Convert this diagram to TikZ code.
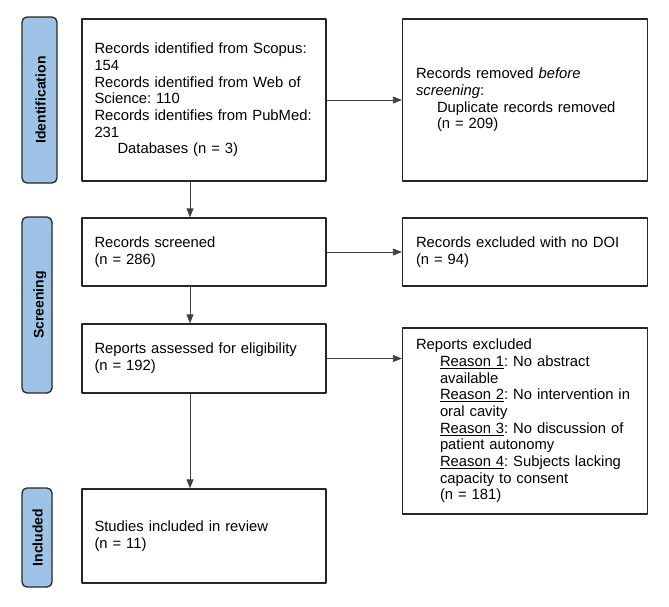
\documentclass[tikz,border=0pt]{standalone}
\usepackage{fontspec}
\setmainfont{Liberation Sans}
\usetikzlibrary{arrows.meta}
\definecolor{phaseblue}{RGB}{158,195,230}
\begin{document}
\begin{tikzpicture}[x=1pt,y=-1pt,line join=round,
	>={Triangle[length=9pt,width=7pt]},
	font=\fontsize{14.8pt}{16.7pt}\selectfont\frenchspacing,
	box/.style={draw=black!85,line width=1.3pt,inner xsep=12.5pt,
		text width=219pt,align=left,minimum width=244pt},
	rbox/.style={box,inner xsep=13.5pt,text width=218pt,minimum width=245pt},
	phase/.style={draw=black!85,line width=1.3pt,fill=phaseblue,
		rounded corners=5pt,rotate=90,inner sep=0pt},
	phasetext/.style={rotate=90,inner sep=0pt,text depth=0pt,
		font=\fontsize{14pt}{16pt}\selectfont\bfseries},
	link/.style={->,draw=black!75,line width=0.8pt}]
	\def\gap{\hspace*{23pt}}
	\useasboundingbox (0,0) rectangle (669,606);
	% phase bars
	\node[phase,minimum width=166pt,minimum height=35pt] (idbar) at (39.5,100) {};
	\node[phasetext] (idtext) at (40.5,100) {Identification};
	\node[phase,minimum width=176pt,minimum height=30pt] (scrbar) at (37,305) {};
	\begin{scope}
		\clip (23,218) rectangle (45,392);
		\node[phasetext] (scrtext) at (38.5,305) {Screening};
	\end{scope}
	\node[phase,minimum width=99pt,minimum height=30pt] (incbar) at (37,537.5) {};
	\node[phasetext] (inctext) at (37.5,537.5) {Included};
	% left column
	\node[box,minimum height=162pt] (ident) at (204,100) {\mbox{Records identified from Scopus:}\\
		154\\
		Records identified from Web of\\
		Science: 110\\
		\mbox{Records identifies from PubMed:}\\
		231\\
		\gap Databases (n = 3)};
	\node[box,minimum height=68pt] (screen) at (204,252) {Records screened\\(n = 286)};
	\node[box,minimum height=69pt] (assess) at (204,358.5) {Reports assessed for eligibility\\(n = 192)};
	\node[box,minimum height=94pt] (incl) at (204,536) {Studies included in review\\(n = 11)};
	% right column
	\node[rbox,minimum height=162pt] (removed) at (525,100) {Records removed \emph{before}\\
		\emph{screening}:\\
		\hspace*{21pt}Duplicate records removed\\
		\hspace*{21pt}(n = 209)};
	\node[rbox,minimum height=68pt] (nodoi) at (525,252) {Records excluded with no DOI\\(n = 94)};
	\node[rbox,minimum height=186pt] (excl) at (525,421) {Reports excluded\\
		\hspace*{24pt}\underline{Reason 1}: No abstract\\
		\hspace*{24pt}available\\
		\hspace*{24pt}\mbox{\underline{Reason 2}: No intervention in}\\
		\hspace*{24pt}oral cavity\\
		\hspace*{24pt}\underline{Reason 3}: No discussion of\\
		\hspace*{24pt}patient autonomy\\
		\hspace*{24pt}\underline{Reason 4}: Subjects lacking\\
		\hspace*{24pt}capacity to consent\\
		\hspace*{24pt}(n = 181)};
	% connectors
	\coordinate (flow) at (190,0);
	\draw[link] (ident.south -| flow)--(screen.north -| flow);
	\draw[link] (screen.south -| flow)--(assess.north -| flow);
	\draw[link] (assess.south -| flow)--(incl.north -| flow);
	\draw[link] (ident.east)--(removed.west |- ident.east);
	\draw[link] (screen.east)--(nodoi.west |- screen.east);
	\draw[link] (assess.east)--(excl.west |- assess.east);
\end{tikzpicture}
\end{document}
